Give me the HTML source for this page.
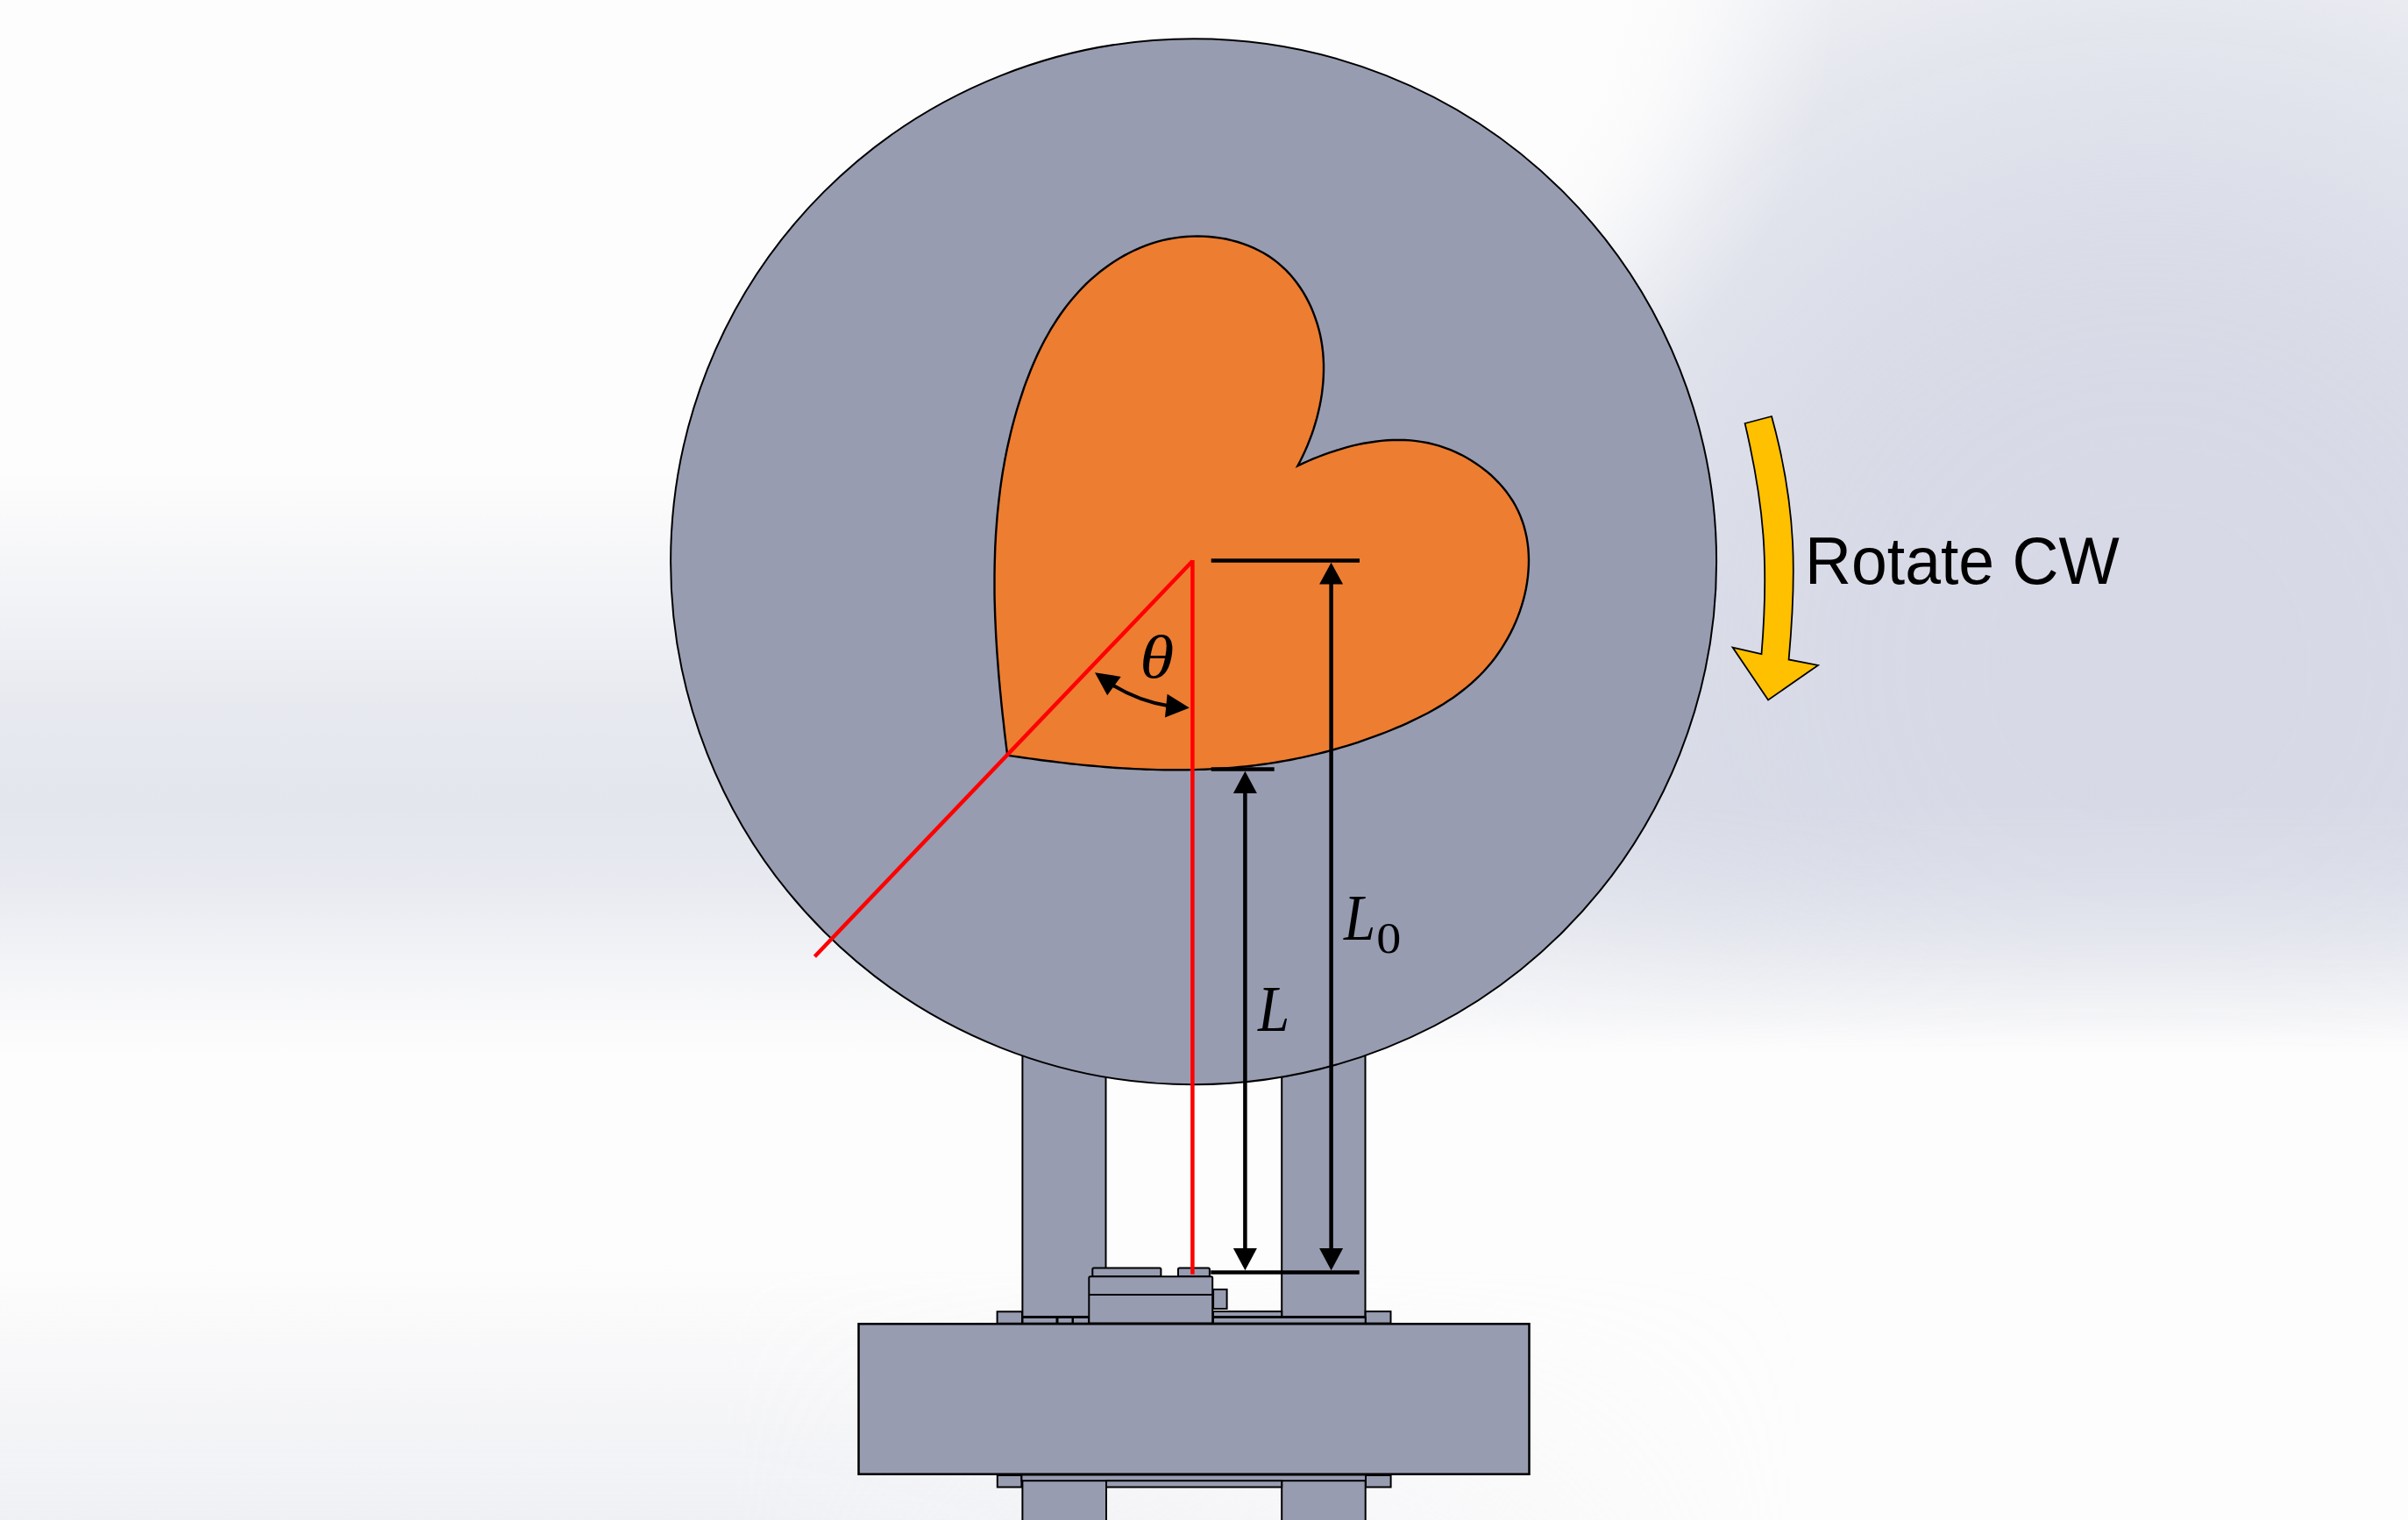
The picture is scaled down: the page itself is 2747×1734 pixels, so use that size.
<!DOCTYPE html>
<html><head><meta charset="utf-8">
<style>
html,body{margin:0;padding:0;width:2747px;height:1734px;overflow:hidden;background:#fdfdfd;}
svg{display:block;position:absolute;left:0;top:0;}
.t{font-family:"Liberation Sans",sans-serif;}
.m{font-family:"Liberation Serif",serif;font-style:italic;}
.u{font-family:"Liberation Serif",serif;}
</style></head><body>
<svg width="2747" height="1734" viewBox="0 0 2747 1734">
<defs>
<linearGradient id="band" x1="0" y1="0" x2="0" y2="1734" gradientUnits="userSpaceOnUse">
<stop offset="0.31" stop-color="#dadde8" stop-opacity="0"/>
<stop offset="0.40" stop-color="#dadde8" stop-opacity="0.33"/>
<stop offset="0.46" stop-color="#dadde8" stop-opacity="0.60"/>
<stop offset="0.53" stop-color="#dadde8" stop-opacity="0.72"/>
<stop offset="0.58" stop-color="#dadde8" stop-opacity="0.60"/>
<stop offset="0.635" stop-color="#dadde8" stop-opacity="0.28"/>
<stop offset="0.695" stop-color="#dadde8" stop-opacity="0"/>
</linearGradient>
<radialGradient id="rad" cx="0" cy="0" r="1" gradientUnits="userSpaceOnUse" gradientTransform="translate(2450 760) scale(1300 1300)">
<stop offset="0.0000" stop-color="#d7dae6" stop-opacity="1.000"/>
<stop offset="0.0625" stop-color="#d7dae6" stop-opacity="1.000"/>
<stop offset="0.1250" stop-color="#d7dae6" stop-opacity="0.999"/>
<stop offset="0.1875" stop-color="#d7dae6" stop-opacity="0.995"/>
<stop offset="0.2500" stop-color="#d7dae6" stop-opacity="0.983"/>
<stop offset="0.3125" stop-color="#d7dae6" stop-opacity="0.959"/>
<stop offset="0.3750" stop-color="#d7dae6" stop-opacity="0.917"/>
<stop offset="0.4375" stop-color="#d7dae6" stop-opacity="0.852"/>
<stop offset="0.5000" stop-color="#d7dae6" stop-opacity="0.761"/>
<stop offset="0.5625" stop-color="#d7dae6" stop-opacity="0.646"/>
<stop offset="0.6250" stop-color="#d7dae6" stop-opacity="0.513"/>
<stop offset="0.6875" stop-color="#d7dae6" stop-opacity="0.377"/>
<stop offset="0.7500" stop-color="#d7dae6" stop-opacity="0.251"/>
<stop offset="0.8125" stop-color="#d7dae6" stop-opacity="0.149"/>
<stop offset="0.8750" stop-color="#d7dae6" stop-opacity="0.077"/>
<stop offset="0.9375" stop-color="#d7dae6" stop-opacity="0.034"/>
<stop offset="1.0000" stop-color="#d7dae6" stop-opacity="0.000"/>
</radialGradient>
<linearGradient id="bf" x1="0" y1="0" x2="0" y2="1734" gradientUnits="userSpaceOnUse">
<stop offset="0.53" stop-color="#fff" stop-opacity="1"/>
<stop offset="0.69" stop-color="#fff" stop-opacity="0"/>
</linearGradient>
<mask id="mbf" maskUnits="userSpaceOnUse" x="0" y="0" width="2747" height="1734">
<rect x="0" y="0" width="2747" height="1734" fill="url(#bf)"/>
</mask>
<linearGradient id="bot" x1="0" y1="0" x2="0" y2="1734" gradientUnits="userSpaceOnUse">
<stop offset="0.83" stop-color="#dfe1ea" stop-opacity="0"/>
<stop offset="1" stop-color="#dfe1ea" stop-opacity="0.45"/>
</linearGradient>
<linearGradient id="botx" x1="0" y1="0" x2="2747" y2="0" gradientUnits="userSpaceOnUse">
<stop offset="0.3" stop-color="#fff" stop-opacity="1"/>
<stop offset="0.75" stop-color="#fff" stop-opacity="0"/>
</linearGradient>
<mask id="mbot" maskUnits="userSpaceOnUse" x="0" y="0" width="2747" height="1734">
<rect x="0" y="0" width="2747" height="1734" fill="url(#botx)"/>
</mask>
<radialGradient id="wglow" cx="0" cy="0" r="1" gradientUnits="userSpaceOnUse" gradientTransform="translate(1450 -50) scale(650 650)">
<stop offset="0" stop-color="#fdfdfd" stop-opacity="1"/>
<stop offset="0.6" stop-color="#fdfdfd" stop-opacity="1"/>
<stop offset="0.7" stop-color="#fdfdfd" stop-opacity="0.85"/>
<stop offset="0.8" stop-color="#fdfdfd" stop-opacity="0.55"/>
<stop offset="0.9" stop-color="#fdfdfd" stop-opacity="0.22"/>
<stop offset="1" stop-color="#fdfdfd" stop-opacity="0"/>
</radialGradient>
</defs>
<rect x="0" y="0" width="2747" height="1734" fill="#fdfdfd"/>
<rect x="0" y="0" width="2747" height="1734" fill="url(#band)"/>
<rect x="0" y="0" width="2747" height="1734" fill="url(#rad)" mask="url(#mbf)"/>
<rect x="0" y="0" width="2747" height="1734" fill="url(#wglow)"/>
<rect x="0" y="0" width="2747" height="1734" fill="url(#bot)" mask="url(#mbot)"/>

<g fill="#979cb1" stroke="#000" stroke-width="2">
<!-- upper pillars -->
<rect x="1166.4" y="1150" width="95.1" height="352"/>
<rect x="1462.2" y="1150" width="95.3" height="352"/>
<!-- lower pillars -->
<rect x="1166.4" y="1689" width="95.6" height="60"/>
<rect x="1462.2" y="1689" width="95.5" height="60"/>
<!-- bottom tabs and strips -->
<rect x="1137.8" y="1683" width="27.6" height="13.5"/>
<rect x="1558" y="1683" width="28.6" height="13.5"/>
<rect x="1165.4" y="1682.5" width="392.6" height="6.7"/>
<rect x="1262" y="1689.2" width="200.2" height="7.3"/>
<!-- top tabs -->
<rect x="1137.6" y="1496.3" width="28.4" height="13.5"/>
<rect x="1557.7" y="1496.1" width="28.8" height="13.5"/>
<!-- strips -->
<rect x="1166.5" y="1503" width="39" height="6.7"/>
<rect x="1206.5" y="1503" width="17" height="6.7"/>
<rect x="1224" y="1503" width="18.3" height="6.7"/>
<rect x="1384" y="1496.1" width="78.2" height="6"/>
<rect x="1384" y="1503" width="173.7" height="6.6"/>
<!-- small right block -->
<rect x="1384.1" y="1471" width="15.5" height="22"/>
<!-- central block -->
<rect x="1246.3" y="1446.6" width="78.1" height="9.6" rx="1.5"/>
<rect x="1344" y="1446.6" width="35.9" height="9.6" rx="1.5"/>
<rect x="1242.3" y="1456.3" width="140.9" height="53.1" rx="1.5"/>
<line x1="1242.3" y1="1476.9" x2="1383.2" y2="1476.9"/>
<!-- base plate -->
<rect x="979.5" y="1510.3" width="765" height="171.4" stroke-width="2.5"/>
<!-- main disc -->
<circle cx="1361.6" cy="640.7" r="596.5"/>
</g>

<!-- cam -->
<path d="M1149.2,861.6 L1148.4,855.1 L1147.6,848.6 L1146.8,842.0 L1146.0,835.5 L1145.3,828.9 L1144.6,822.4 L1143.8,815.8 L1143.1,809.2 L1142.4,802.6 L1141.8,796.0 L1141.1,789.4 L1140.5,782.8 L1139.9,776.2 L1139.3,769.5 L1138.8,762.9 L1138.3,756.3 L1137.8,749.6 L1137.3,743.0 L1136.9,736.3 L1136.5,729.7 L1136.1,723.0 L1135.8,716.4 L1135.5,709.7 L1135.2,703.1 L1135.0,696.4 L1134.8,689.8 L1134.6,683.1 L1134.5,676.5 L1134.5,669.8 L1134.5,663.2 L1134.5,656.5 L1134.6,649.9 L1134.7,643.2 L1134.9,636.6 L1135.1,629.9 L1135.3,623.3 L1135.7,616.7 L1136.0,610.1 L1136.5,603.5 L1137.0,596.9 L1137.5,590.3 L1138.1,583.7 L1138.8,577.1 L1139.5,570.5 L1140.3,564.0 L1141.1,557.4 L1142.0,550.9 L1143.0,544.3 L1144.0,537.8 L1145.2,531.3 L1146.3,524.8 L1147.6,518.3 L1148.9,511.8 L1150.3,505.4 L1151.8,498.9 L1153.3,492.5 L1154.9,486.1 L1156.6,479.7 L1158.4,473.3 L1160.2,467.0 L1162.2,460.6 L1164.2,454.3 L1166.3,448.0 L1168.4,441.7 L1170.7,435.4 L1173.1,429.2 L1175.5,423.0 L1178.1,416.8 L1180.7,410.7 L1183.5,404.6 L1186.4,398.6 L1189.3,392.7 L1192.4,386.8 L1195.7,381.0 L1199.0,375.2 L1202.5,369.6 L1206.1,364.0 L1209.8,358.5 L1213.6,353.2 L1217.6,347.9 L1221.8,342.7 L1226.1,337.7 L1230.5,332.7 L1235.1,327.9 L1239.8,323.2 L1244.7,318.7 L1249.7,314.3 L1254.9,310.0 L1260.2,306.0 L1265.7,302.0 L1271.3,298.3 L1276.9,294.8 L1282.7,291.4 L1288.7,288.3 L1294.7,285.3 L1300.8,282.6 L1307.0,280.2 L1313.3,277.9 L1319.7,275.9 L1326.2,274.2 L1332.7,272.8 L1339.3,271.6 L1346.0,270.6 L1352.6,270.0 L1359.3,269.6 L1366.1,269.4 L1372.7,269.6 L1379.4,270.0 L1386.1,270.7 L1392.6,271.6 L1399.2,272.8 L1405.6,274.3 L1411.9,276.0 L1418.2,278.1 L1424.3,280.3 L1430.2,282.9 L1436.0,285.7 L1441.7,288.8 L1447.2,292.1 L1452.4,295.7 L1457.5,299.6 L1462.3,303.8 L1467.0,308.2 L1471.4,312.8 L1475.6,317.7 L1479.5,322.7 L1483.2,328.0 L1486.7,333.4 L1490.0,339.1 L1493.0,344.9 L1495.8,350.8 L1498.3,356.9 L1500.6,363.1 L1502.7,369.4 L1504.5,375.8 L1506.1,382.3 L1507.4,388.9 L1508.4,395.5 L1509.2,402.2 L1509.7,409.0 L1510.0,415.7 L1510.0,422.5 L1509.8,429.3 L1509.4,436.1 L1508.7,442.9 L1507.9,449.7 L1506.8,456.4 L1505.5,463.1 L1504.0,469.7 L1502.4,476.3 L1500.5,482.8 L1498.5,489.3 L1496.4,495.6 L1494.0,501.9 L1491.6,508.0 L1489.0,514.0 L1486.2,519.9 L1483.4,525.7 L1480.4,531.3 L1486.2,528.6 L1492.1,526.0 L1498.1,523.4 L1504.2,521.0 L1510.4,518.6 L1516.7,516.4 L1523.0,514.3 L1529.4,512.3 L1535.9,510.4 L1542.4,508.7 L1549.0,507.2 L1555.6,505.8 L1562.3,504.7 L1568.9,503.7 L1575.6,502.9 L1582.3,502.3 L1589.0,502.0 L1595.7,501.9 L1602.4,502.0 L1609.1,502.4 L1615.7,503.1 L1622.3,504.1 L1628.9,505.3 L1635.4,506.8 L1641.9,508.7 L1648.3,510.8 L1654.6,513.2 L1660.8,515.9 L1667.0,518.8 L1672.9,522.0 L1678.7,525.5 L1684.4,529.2 L1689.9,533.1 L1695.2,537.2 L1700.3,541.5 L1705.2,546.1 L1709.8,550.8 L1714.2,555.7 L1718.3,560.8 L1722.1,566.1 L1725.7,571.5 L1728.9,577.0 L1731.8,582.7 L1734.4,588.6 L1736.6,594.5 L1738.6,600.6 L1740.2,606.7 L1741.6,613.0 L1742.6,619.3 L1743.4,625.7 L1743.8,632.1 L1744.0,638.6 L1743.9,645.1 L1743.5,651.6 L1742.9,658.2 L1742.0,664.7 L1740.9,671.2 L1739.5,677.8 L1737.9,684.2 L1736.0,690.7 L1733.9,697.1 L1731.6,703.4 L1729.0,709.7 L1726.3,715.8 L1723.3,721.9 L1720.1,727.9 L1716.7,733.7 L1713.2,739.4 L1709.4,745.0 L1705.5,750.5 L1701.4,755.7 L1697.1,760.8 L1692.7,765.8 L1688.1,770.5 L1683.3,775.1 L1678.4,779.6 L1673.4,783.9 L1668.2,788.0 L1663.0,792.0 L1657.6,795.9 L1652.1,799.6 L1646.5,803.2 L1640.8,806.6 L1635.0,810.0 L1629.2,813.2 L1623.2,816.3 L1617.2,819.3 L1611.2,822.2 L1605.1,825.1 L1599.0,827.8 L1592.8,830.4 L1586.6,833.0 L1580.4,835.5 L1574.1,837.9 L1567.9,840.2 L1561.6,842.4 L1555.3,844.6 L1549.1,846.8 L1542.8,848.8 L1536.4,850.8 L1530.1,852.7 L1523.8,854.5 L1517.4,856.3 L1511.1,858.0 L1504.7,859.6 L1498.3,861.2 L1491.9,862.7 L1485.4,864.1 L1479.0,865.4 L1472.6,866.7 L1466.1,867.9 L1459.6,869.0 L1453.1,870.1 L1446.6,871.1 L1440.1,872.0 L1433.5,872.9 L1427.0,873.7 L1420.4,874.4 L1413.9,875.0 L1407.3,875.6 L1400.7,876.2 L1394.1,876.6 L1387.4,877.0 L1380.8,877.4 L1374.2,877.7 L1367.5,877.9 L1360.9,878.1 L1354.2,878.2 L1347.6,878.3 L1340.9,878.3 L1334.2,878.3 L1327.6,878.2 L1320.9,878.1 L1314.2,877.9 L1307.6,877.7 L1300.9,877.4 L1294.2,877.1 L1287.6,876.8 L1280.9,876.4 L1274.2,876.0 L1267.6,875.5 L1260.9,875.0 L1254.3,874.4 L1247.6,873.8 L1241.0,873.2 L1234.4,872.6 L1227.7,871.9 L1221.1,871.2 L1214.5,870.4 L1207.9,869.6 L1201.3,868.8 L1194.8,868.0 L1188.2,867.2 L1181.7,866.3 L1175.2,865.4 L1168.6,864.5 L1162.1,863.5 L1155.7,862.6 Z" fill="#ed7d31" stroke="#000" stroke-width="2.4" stroke-linejoin="miter"/>

<!-- red lines -->
<g stroke="#ff0000" stroke-width="4.5" fill="none">
<line x1="1360.4" y1="639" x2="1360.4" y2="1453.8"/>
<line x1="1360.4" y1="640" x2="929.4" y2="1091.2"/>
</g>

<!-- dimension lines -->
<g stroke="#000" stroke-width="4.5" fill="none">
<line x1="1381.7" y1="639.5" x2="1551" y2="639.5"/>
<line x1="1381.7" y1="877.4" x2="1453.7" y2="877.4"/>
<line x1="1381.2" y1="1451.4" x2="1550.7" y2="1451.4"/>
<line x1="1518.6" y1="660" x2="1518.6" y2="1430"/>
<line x1="1420.4" y1="900" x2="1420.4" y2="1430"/>
</g>
<g fill="#000">
<path d="M1518.6,641.8 L1532.1,666.6 L1505.1,666.6 Z"/>
<path d="M1518.6,1449.3 L1532.1,1424 L1505.1,1424 Z"/>
<path d="M1420.4,879.8 L1433.9,904.9 L1406.9,904.9 Z"/>
<path d="M1420.4,1449.3 L1433.9,1424 L1406.9,1424 Z"/>
</g>

<!-- theta arc -->
<path d="M1270,782 Q1300,800 1332,805" stroke="#000" stroke-width="4" fill="none"/>
<path d="M1249,767.2 L1278.7,771.9 L1263.2,793.2 Z" fill="#000"/>
<path d="M1356.9,807.4 L1331.6,791.8 L1329,818.6 Z" fill="#000"/>

<!-- labels -->
<text class="m" transform="translate(1300.3 773.1) scale(1.127 1)" font-size="70.5">θ</text>
<text class="m" transform="translate(1435.1 1176.3) scale(0.877 1)" font-size="74.1">L</text>
<text class="m" transform="translate(1533 1071.7) scale(0.877 1)" font-size="74.1">L</text>
<text class="u" transform="translate(1570.15 1086.6) scale(1.113 1)" font-size="50.5">0</text>

<!-- yellow arrow -->
<path d="M1990.6,483 L2021,475 C2050.5,581.1 2049,659.8 2040.6,752.4 L2074,758.9 L2017.1,798.5 L1976.6,738.6 L2009.5,746.2 C2018.1,641.6 2012.3,575.5 1990.6,483 Z" fill="#ffc000" stroke="#000" stroke-width="1.8" stroke-linejoin="miter"/>
<text class="t" transform="translate(2059.1 666.2) scale(0.965 1)" font-size="76" fill="#000">Rotate CW</text>
</svg>
</body></html>
